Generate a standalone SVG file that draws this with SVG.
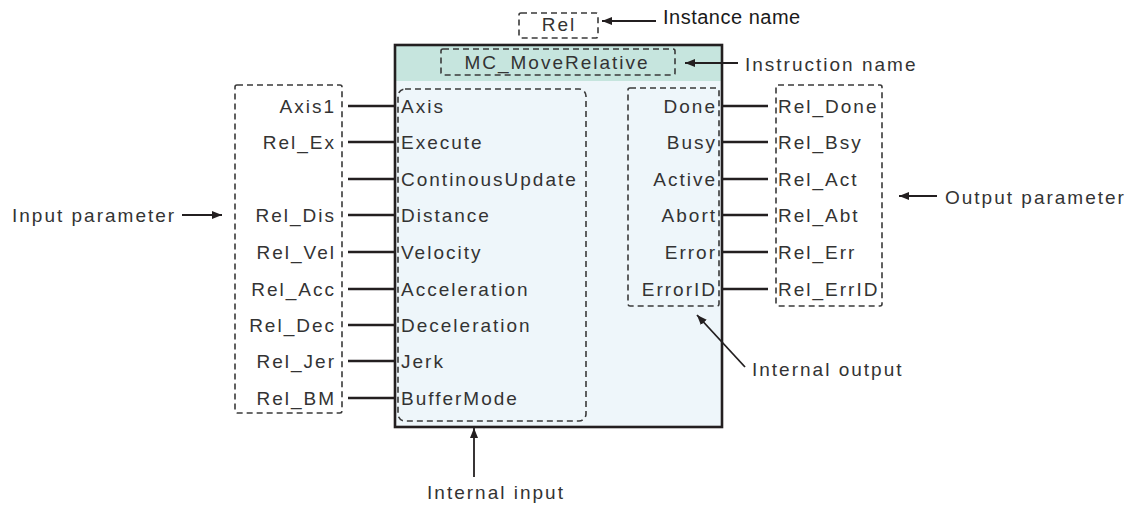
<svg xmlns="http://www.w3.org/2000/svg" width="1131" height="506" viewBox="0 0 1131 506">
<defs>
<marker id="ah" viewBox="0 0 10 8" refX="10" refY="4" markerWidth="10" markerHeight="8" markerUnits="userSpaceOnUse" orient="auto">
<path d="M0,0 L10,4 L0,8 Z" fill="#231f20"/>
</marker>
<style>
.t{font-family:"Liberation Sans",Arial,sans-serif;font-size:19px;letter-spacing:2px;fill:#333333}
.ti{font-family:"Liberation Sans",Arial,sans-serif;font-size:20px;letter-spacing:0.5px;fill:#1a1a1a}
.e{text-anchor:end}
.m{text-anchor:middle}
.d{fill:none;stroke:#3a3a3a;stroke-width:1.6;stroke-dasharray:6 4}
.w{stroke:#231f20;stroke-width:2.6;fill:none}
.a{stroke:#231f20;stroke-width:1.8;fill:none;marker-end:url(#ah)}
</style>
</defs>
<rect width="1131" height="506" fill="#ffffff"/>

<g id="fb">
<rect x="395" y="45" width="327" height="382" fill="#eef6fa"/>
<rect x="395" y="45" width="327" height="36" fill="#c6e5de"/>
<rect x="395" y="45" width="327" height="382" class="w"/>
</g>

<g id="instance">
<rect x="519" y="13" width="79" height="25" rx="2" class="d"/>
<text x="559" y="31" class="t m">Rel</text>
</g>

<g id="instruction">
<rect x="441" y="49" width="234" height="26" rx="2" class="d"/>
<text x="557" y="69" class="t m">MC_MoveRelative</text>
</g>

<g id="internal-input">
<rect x="398" y="89" width="188" height="332" rx="7" class="d"/>
<text x="401" y="113" class="t">Axis</text>
<text x="401" y="149" class="t">Execute</text>
<text x="401" y="186" class="t">ContinousUpdate</text>
<text x="401" y="222" class="t">Distance</text>
<text x="401" y="259" class="t">Velocity</text>
<text x="401" y="296" class="t">Acceleration</text>
<text x="401" y="332" class="t">Deceleration</text>
<text x="401" y="368" class="t">Jerk</text>
<text x="401" y="405" class="t">BufferMode</text>
</g>

<g id="internal-output">
<rect x="628" y="88" width="91" height="218" rx="2" class="d"/>
<text x="717" y="113" class="t e">Done</text>
<text x="717" y="149" class="t e">Busy</text>
<text x="717" y="186" class="t e">Active</text>
<text x="717" y="222" class="t e">Abort</text>
<text x="717" y="259" class="t e">Error</text>
<text x="717" y="296" class="t e">ErrorID</text>
</g>

<g id="input-parameter">
<rect x="235" y="85" width="107" height="328" rx="2" class="d"/>
<text x="336" y="113" class="t e">Axis1</text>
<text x="336" y="149" class="t e">Rel_Ex</text>
<text x="336" y="222" class="t e">Rel_Dis</text>
<text x="336" y="259" class="t e">Rel_Vel</text>
<text x="336" y="296" class="t e">Rel_Acc</text>
<text x="336" y="332" class="t e">Rel_Dec</text>
<text x="336" y="368" class="t e">Rel_Jer</text>
<text x="336" y="405" class="t e">Rel_BM</text>
</g>

<g id="output-parameter">
<rect x="776" y="85" width="106" height="221" rx="2" class="d"/>
<text x="778" y="113" class="t">Rel_Done</text>
<text x="778" y="149" class="t">Rel_Bsy</text>
<text x="778" y="186" class="t">Rel_Act</text>
<text x="778" y="222" class="t">Rel_Abt</text>
<text x="778" y="259" class="t">Rel_Err</text>
<text x="778" y="296" class="t">Rel_ErrID</text>
</g>

<g id="labels">
<text x="663" y="24" class="ti">Instance name</text>
<text x="745" y="71" class="t">Instruction name</text>
<text x="12" y="222" class="t">Input parameter</text>
<text x="945" y="204" class="t">Output parameter</text>
<text x="752" y="376" class="t">Internal output</text>
<text x="496" y="499" class="t m">Internal input</text>
</g>

<g id="connectors">
<line x1="348" y1="106" x2="395" y2="106" class="w"/>
<line x1="348" y1="142" x2="395" y2="142" class="w"/>
<line x1="348" y1="179" x2="395" y2="179" class="w"/>
<line x1="348" y1="215" x2="395" y2="215" class="w"/>
<line x1="348" y1="252" x2="395" y2="252" class="w"/>
<line x1="348" y1="289" x2="395" y2="289" class="w"/>
<line x1="348" y1="325" x2="395" y2="325" class="w"/>
<line x1="348" y1="361" x2="395" y2="361" class="w"/>
<line x1="348" y1="398" x2="395" y2="398" class="w"/>
<line x1="722" y1="106" x2="768" y2="106" class="w"/>
<line x1="722" y1="142" x2="768" y2="142" class="w"/>
<line x1="722" y1="179" x2="768" y2="179" class="w"/>
<line x1="722" y1="215" x2="768" y2="215" class="w"/>
<line x1="722" y1="252" x2="768" y2="252" class="w"/>
<line x1="722" y1="289" x2="768" y2="289" class="w"/>
<line x1="656" y1="21" x2="602" y2="21" class="a"/>
<line x1="738" y1="63" x2="685" y2="63" class="a"/>
<line x1="182" y1="215" x2="222" y2="215" class="a"/>
<line x1="937" y1="196" x2="899" y2="196" class="a"/>
<line x1="745" y1="367" x2="697" y2="315" class="a"/>
<line x1="474" y1="477" x2="474" y2="428" class="a"/>
</g>
</svg>
